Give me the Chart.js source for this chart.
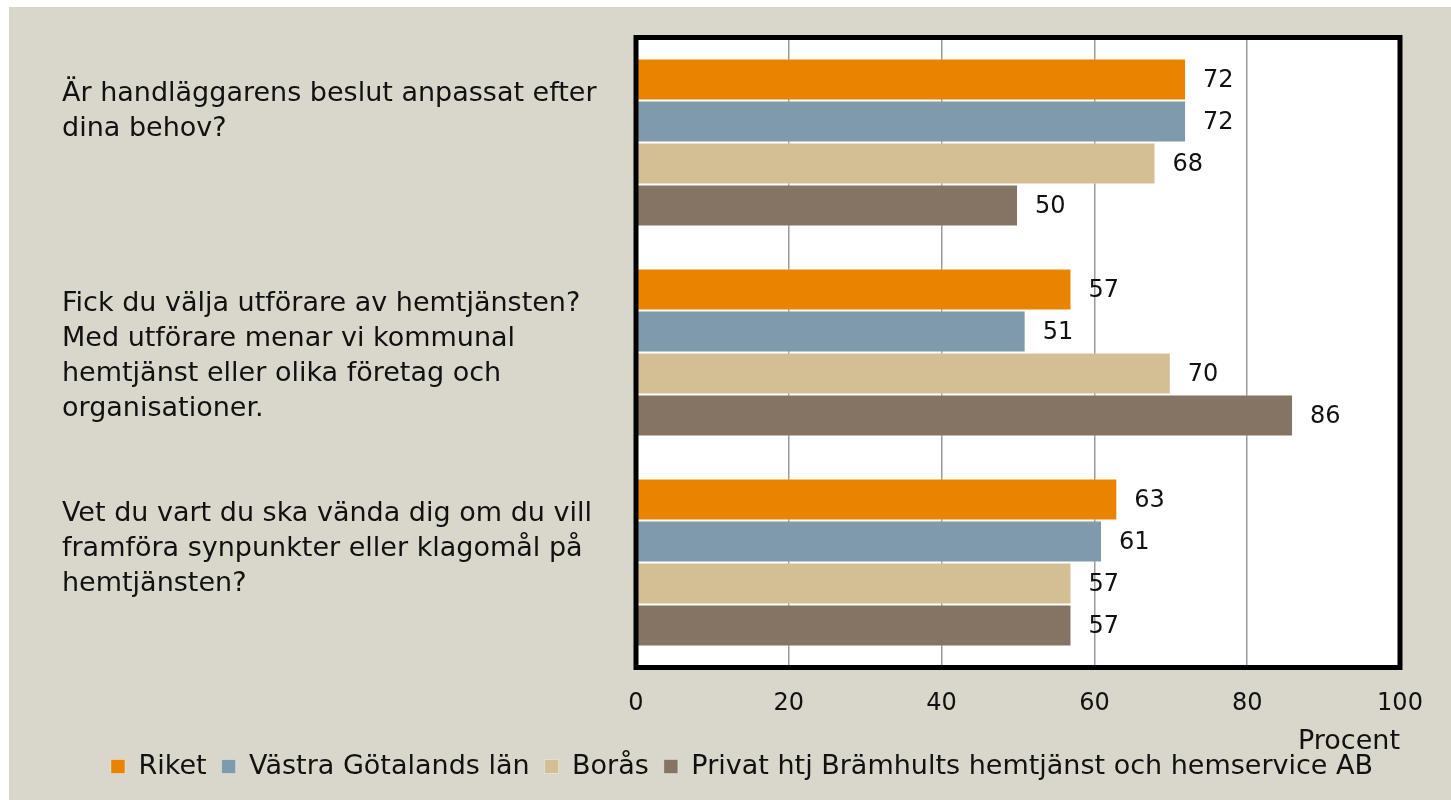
<!DOCTYPE html>
<html lang="sv">
<head>
<meta charset="UTF-8">
<title>Hemtjänst</title>
<style>
  html, body { margin: 0; padding: 0; background: #fff; }
  #wrap { position: absolute; left: 9px; top: 7px; width: 1442px; height: 793px; background: #D9D7CB; }
</style>
</head>
<body>
<div id="wrap"><canvas id="chart"></canvas></div>
<script src="https://cdn.jsdelivr.net/npm/chart.js"></script>
<script>
// questions (empty strings only nudge the label block up like in the original)
const questions = [
  ['Är handläggarens beslut anpassat efter', 'dina behov?', '', ''],
  ['Fick du välja utförare av hemtjänsten?', 'Med utförare menar vi kommunal', 'hemtjänst eller olika företag och', 'organisationer.'],
  ['Vet du vart du ska vända dig om du vill', 'framföra synpunkter eller klagomål på', 'hemtjänsten?', '']
];
const riket = [72, 57, 63];
const vastraGotaland = [72, 51, 61];
const boras = [68, 70, 57];
const bramhults = [50, 86, 57];
const seriesNames = ['Riket', 'Västra Götalands län', 'Borås', 'Privat htj Brämhults hemtjänst och hemservice AB'];
const seriesColors = ['#E98300', '#7F9BAB', '#D4BF95', '#857463'];
const xTicks = [0, 20, 40, 60, 80, 100];

const FONT = '"DejaVu Sans", sans-serif';

// white plot area + thick black frame
const plotFrame = {
    id: 'plotFrame',
    afterLayout(chart) {
        // legend sits a bit right of centre in the original
        chart.legend.left += 11;
        chart.legend.right += 11;
    },
    beforeDraw(chart) {
        const { ctx, chartArea: a } = chart;
        ctx.save();
        ctx.fillStyle = '#fff';
        ctx.fillRect(a.left, a.top, a.width, a.height);
        ctx.restore();
    },
    afterDraw(chart) {
        const { ctx, chartArea: a } = chart;
        ctx.save();
        ctx.strokeStyle = '#000';
        ctx.lineWidth = 5;
        ctx.strokeRect(a.left, a.top, a.width, a.height);
        ctx.restore();
    }
};

// numbers to the right of each bar
const valueLabels = {
    id: 'valueLabels',
    afterDatasetsDraw(chart) {
        const ctx = chart.ctx;
        ctx.save();
        ctx.font = '24px ' + FONT;
        ctx.fillStyle = '#111';
        ctx.textAlign = 'left';
        ctx.textBaseline = 'middle';
        chart.data.datasets.forEach((ds, i) => {
            chart.getDatasetMeta(i).data.forEach((bar, j) => {
                ctx.fillText(ds.data[j], bar.x + 17, bar.y + 1);
            });
        });
        ctx.restore();
    }
};

const series = [riket, vastraGotaland, boras, bramhults];

new Chart(document.getElementById('chart'), {
    type: 'bar',
    data: {
        labels: questions,
        datasets: series.map((vals, i) => ({
            label: seriesNames[i],
            data: vals,
            backgroundColor: seriesColors[i],
            borderColor: 'rgba(255,255,255,0.35)',
            borderWidth: 1,
            categoryPercentage: 0.8,
            barPercentage: 1.0
        }))
    },
    options: {
        indexAxis: 'y',
        responsive: true,
        maintainAspectRatio: false,
        animation: false,
        layout: { padding: { left: 53, right: 51, top: 30.5, bottom: 10 } },
        scales: {
            x: {
                min: 0,
                max: 100,
                afterBuildTicks: scale => { scale.ticks = xTicks.map(v => ({ value: v })); },
                ticks: { color: '#111', font: { family: FONT, size: 24, lineHeight: 1.35 }, padding: 20 },
                grid: { color: '#9a9a9a', lineWidth: 1.5, drawTicks: false },
                border: { display: false },
                title: {
                    display: true,
                    text: 'Procent',
                    align: 'end',
                    color: '#111',
                    font: { family: FONT, size: 27 },
                    padding: { top: 7, bottom: -20 }
                },
                afterFit: scale => { scale.height = 70.5; }
            },
            y: {
                grid: { display: false },
                border: { display: false },
                ticks: {
                    crossAlign: 'far',
                    color: '#111',
                    padding: 0,
                    labelOffset: 4,
                    font: { family: FONT, size: 27, lineHeight: 1.3 }
                },
                afterFit: scale => {
                    scale.width = 574;
                    scale.paddingTop = 0;
                    scale.paddingBottom = 0;
                }
            }
        },
        plugins: {
            legend: {
                position: 'bottom',
                labels: {
                    color: '#111',
                    boxWidth: 14,
                    boxHeight: 14,
                    padding: 15,
                    font: { family: FONT, size: 27 }
                }
            },
            tooltip: { enabled: false }
        }
    },
    plugins: [plotFrame, valueLabels]
});
</script>
</body>
</html>
